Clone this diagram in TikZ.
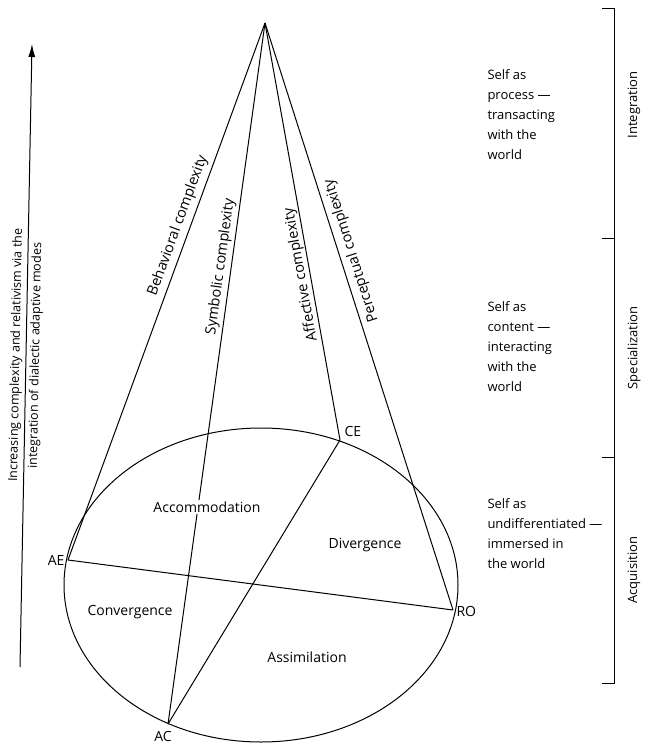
\documentclass[tikz,border=0pt]{standalone}
\usepackage{fontspec}
\setmainfont{Open Sans}
\usetikzlibrary{arrows.meta}
\begin{document}
\begin{tikzpicture}[x=1pt,y=-1pt,line width=1pt,
  lbl/.style={font=\fontsize{14}{17}\selectfont, inner sep=1pt},
  rl/.style={font=\fontsize{14.5}{17}\selectfont, inner sep=1.2pt, sloped, allow upside down},
  side/.style={font=\fontsize{13}{20}\selectfont, align=left, anchor=north west, inner sep=0pt},
  brk/.style={font=\fontsize{13}{16}\selectfont, rotate=90, inner sep=0pt},
  axis/.style={font=\fontsize{12.5}{15}\selectfont, sloped, inner sep=3pt}]
\useasboundingbox (0,0) rectangle (646,744);
\fill[white] (0,0) rectangle (646,744);

% key points
\coordinate (T) at (265,23);
\coordinate (AE) at (68,560);
\coordinate (RO) at (453,610);
\coordinate (AC) at (168,724);
\coordinate (CE) at (340,440);

% circle
\draw (261,585) ellipse [x radius=197, y radius=157];

% cone lines
\draw (T) -- (AE);
\draw (T) -- (AC);
\draw (T) -- (CE) -- (AC);
\draw (T) -- (RO);
\draw (AE) -- (RO);

% labels on cone lines
\path (AE) -- (T) node[rl, above=3pt, pos=0.615] (lb) {Behavioral complexity};
\path (AC) -- (T) node[rl, above=1.5pt, pos=0.65] (ls) {Symbolic complexity};
\path (CE) -- (T) node[rl, above, pos=0.40] (la) {Affective complexity};
\path (RO) -- (T) node[rl, below=4pt, pos=0.605] (lp) {Perceptual complexity};

% region labels
\node[lbl, fill=white, inner sep=2pt] (acc) at (207,507) {Accommodation};
\node[lbl] (div) at (365,545) {Divergence};
\node[lbl] (con) at (130,612) {Convergence};
\node[lbl] (ass) at (307,657) {Assimilation};

% pole labels
\node[lbl, anchor=east] (aeL) at ([xshift=-2pt]AE) {AE};
\node[lbl, anchor=west] (roL) at ([xshift=2pt,yshift=-1pt]RO) {RO};
\node[lbl] (acL) at (163,736) {AC};
\node[lbl, anchor=west] (ceL) at (343,431) {CE};

% vertical axis arrow
\coordinate (abot) at (20,667);
\coordinate (atop) at (32,44);
\draw[-{Latex[length=13pt,width=7pt]}] (abot) -- (atop);
\path (abot) -- (atop)
  node[axis, above, pos=0.5] (ax1) {Increasing complexity and relativism via the}
  node[axis, below, pos=0.5] (ax2) {integration of dialectic adaptive modes};

% right side descriptions
\node[side] (s1) at (487,69) {Self as\\process ---\\transacting\\with the\\world};
\node[side] (s2) at (487,301) {Self as\\content ---\\interacting\\with the\\world};
\node[side] (s3) at (487,498) {Self as\\undifferentiated ---\\immersed in\\the world};

% bracket
\coordinate (b0) at (614,8);
\coordinate (b1) at (614,238);
\coordinate (b2) at (614,457);
\coordinate (b3) at (614,683);
\draw ([xshift=-12pt]b0) -- (b0) -- (b3) -- ([xshift=-12pt]b3);
\draw ([xshift=-12pt]b1) -- (b1);
\draw ([xshift=-12pt]b2) -- (b2);
\node[brk] (int) at (634,105) {Integration};
\node[brk] (spe) at (634,348) {Specialization};
\node[brk] (acq) at (634,570) {Acquisition};
\end{tikzpicture}
\end{document}
